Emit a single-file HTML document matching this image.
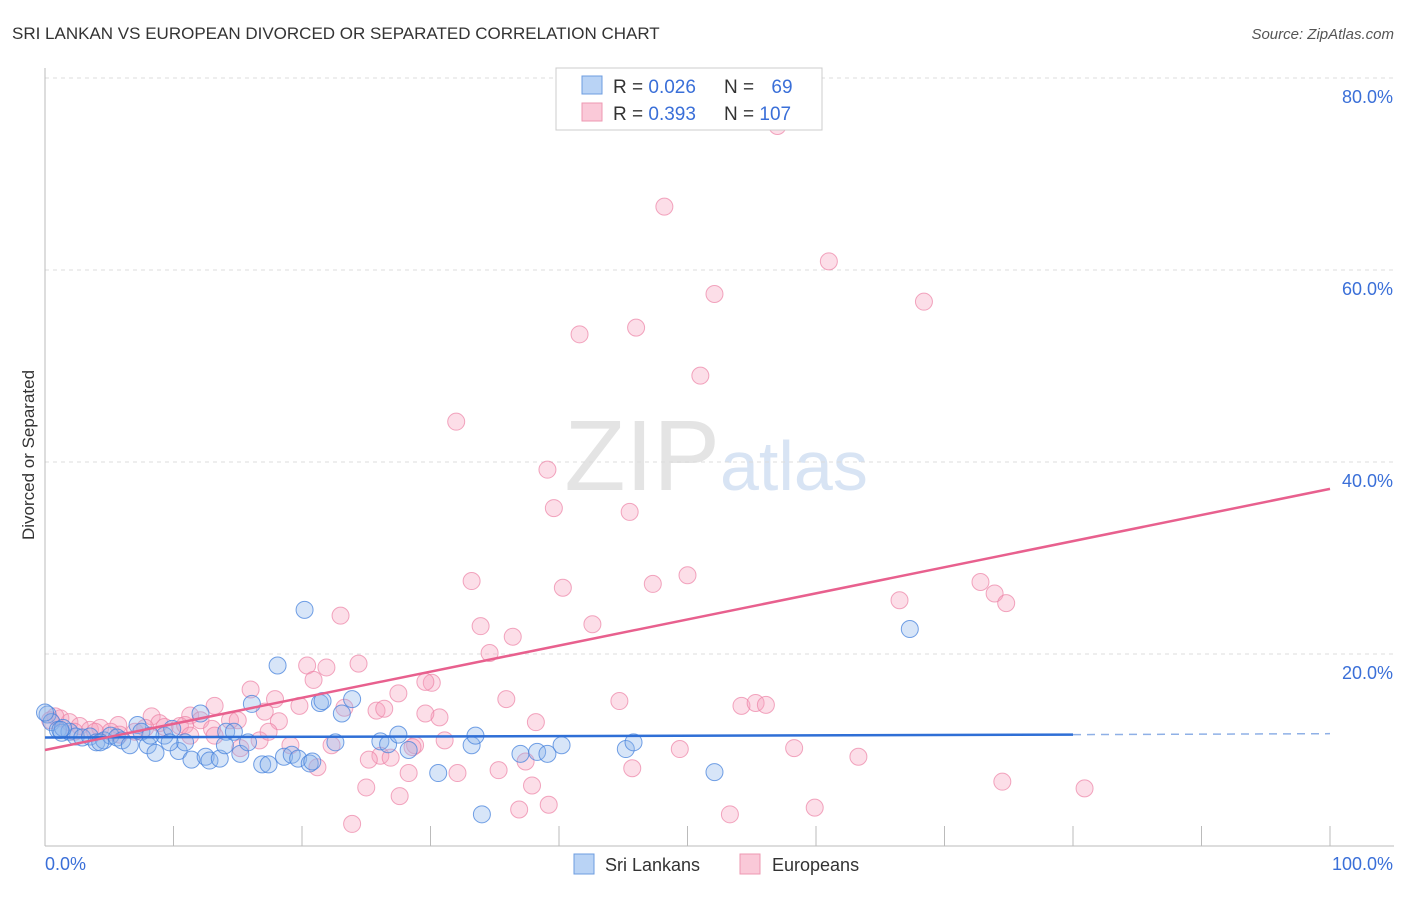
<!DOCTYPE html>
<html><head><meta charset="utf-8"><style>
body{margin:0;background:#fff;font-family:"Liberation Sans",sans-serif}
svg text{font-family:"Liberation Sans",sans-serif}
</style></head><body>
<svg id="chart" width="1406" height="892">
<text x="12" y="39" font-size="17" fill="#333">SRI LANKAN VS EUROPEAN DIVORCED OR SEPARATED CORRELATION CHART</text>
<text x="1394" y="39" font-size="15" fill="#555" font-style="italic" text-anchor="end">Source: ZipAtlas.com</text>
<text x="34" y="455" font-size="17" fill="#333" text-anchor="middle" transform="rotate(-90 34 455)">Divorced or Separated</text>
<text x="720" y="490" font-size="100" fill="#e4e4e4" text-anchor="end" font-family="Liberation Serif">ZIP</text>
<text x="720" y="490" font-size="70" fill="#d8e4f4">atlas</text>
<g id="grid"></g><g id="pts"></g><g id="lines"></g>
<g>
<rect x="556" y="68" width="266" height="62" fill="#fff" stroke="#ccc"/>
<rect x="582" y="76" width="20" height="18" fill="#b9d3f5" stroke="#6d9de0"/>
<rect x="582" y="103" width="20" height="18" fill="#fac9d8" stroke="#ee98b2"/>
<text x="613" y="93" font-size="19" fill="#333">R = <tspan fill="#3a6fd8">0.026</tspan></text>
<text x="724" y="93" font-size="19" fill="#333">N = <tspan fill="#3a6fd8" dx="12">69</tspan></text>
<text x="613" y="120" font-size="19" fill="#333">R = <tspan fill="#3a6fd8">0.393</tspan></text>
<text x="724" y="120" font-size="19" fill="#333">N = <tspan fill="#3a6fd8">107</tspan></text>
</g>
<g>
<rect x="574" y="854" width="20" height="20" fill="#b9d3f5" stroke="#6d9de0"/>
<text x="605" y="871" font-size="18" fill="#333">Sri Lankans</text>
<rect x="740" y="854" width="20" height="20" fill="#fac9d8" stroke="#ee98b2"/>
<text x="772" y="871" font-size="18" fill="#333">Europeans</text>
</g>
</svg>
<script>
const xTicks=[0,10,20,30,40,50,60,70,80,90,100];
const yTicks=[20,40,60,80];
const blueX=[0.2,0.5,1,1.3,1.9,2.4,2.9,3.5,4,4.6,5.1,5.6,6,6.6,7.2,7.5,8,8.6,9.3,9.9,10.4,10.9,11.4,12.1,12.5,12.8,13.6,14.1,14.7,15.2,15.8,16.1,16.9,17.4,18.1,18.6,19.2,19.7,20.2,20.6,20.8,21.4,21.6,22.6,23.1,23.9,26.1,26.7,27.5,28.3,30.6,33.2,33.5,34,37,38.3,39.1,40.2,45.2,45.8,52.1,67.3,0,1.4,4.3,8.2,9.7,14,1.2];
const blueY=[13.7,12.9,12.1,11.8,11.9,11.4,11.3,11.4,10.8,11,11.5,11.3,11,10.5,12.6,11.9,10.5,9.7,11.5,12.2,9.9,10.8,9,13.8,9.3,8.9,9.1,11.9,11.9,9.6,10.8,14.8,8.5,8.5,18.8,9.3,9.5,9.1,24.6,8.6,8.8,14.9,15.1,10.8,13.8,15.3,10.9,10.6,11.6,10,7.6,10.5,11.5,3.3,9.6,9.8,9.6,10.5,10.1,10.8,7.7,22.6,13.9,12.3,10.8,11.5,10.8,10.5,12.1];
const pinkX=[57,48.2,61,52.1,68.4,46,41.6,51,32,39.1,39.6,45.5,33.2,40.3,47.3,50,72.8,66.5,73.9,74.8,23,33.9,36.4,42.6,34.6,24.4,20.4,21.9,20.9,30.1,29.6,16,27.5,17.9,19.8,35.9,44.7,54.2,55.3,56.1,13.2,8.3,11.3,17.1,23.3,25.8,26.4,30.7,29.6,38.2,12.1,14.4,15,18.2,8.9,10.5,13,5.7,7,1.2,1.9,2.7,3.5,4.3,5.1,0.8,0.4,5.8,19.1,22.3,15.2,28.8,31.1,26.1,25.2,26.9,28.6,49.4,58.3,63.3,32.1,28.3,35.3,37.4,45.7,21.2,37.9,25,27.6,36.9,39.2,53.3,59.9,74.5,80.9,23.9,13.2,9.3,10.9,7.8,2.3,3.9,16.7,17.4,11.3];
const pinkY=[75,66.6,60.9,57.5,56.7,54,53.3,49,44.2,39.2,35.2,34.8,27.6,26.9,27.3,28.2,27.5,25.6,26.3,25.3,24,22.9,21.8,23.1,20.1,19,18.8,18.6,17.3,17,17.1,16.3,15.9,15.3,14.6,15.3,15.1,14.6,14.9,14.7,14.6,13.5,13.6,14,14.4,14.1,14.3,13.4,13.8,12.9,13.1,13.1,13.1,13,12.8,12.5,12.2,12.6,11.9,13.3,12.9,12.5,12.1,12.3,11.9,13.5,13.1,11.6,10.5,10.5,10.2,10.5,11,9.4,9,9.2,10.3,10.1,10.2,9.3,7.6,7.6,7.9,8.8,8.1,8.2,6.3,6.1,5.2,3.8,4.3,3.3,4,6.7,6,2.3,11.5,12.4,12.6,12.3,11.9,11.9,11,11.9,11.5];
const blueTrend=[0,11.3,80,11.6,100,11.7];
const pinkTrend=[0,10,100,37.2];
const X=v=>45+v*12.85, Y=v=>846-v*9.6;
const ns="http://www.w3.org/2000/svg";
function mk(t,a,p){const e=document.createElementNS(ns,t);for(const k in a)e.setAttribute(k,a[k]);p.appendChild(e);return e;}
const g=document.getElementById('grid');
yTicks.forEach(t=>{
 const l=mk('line',{x1:45,x2:1394,y1:Y(t),y2:Y(t),stroke:'#ddd','stroke-dasharray':'4,4'},g);
 
 
 const tx=mk('text',{x:1393,y:Y(t)+25,'font-size':18,fill:'#3a6fd8','text-anchor':'end'},g);
 tx.textContent=t.toFixed(1)+'%';
 
 
});
mk('line',{x1:45,x2:1394,y1:Y(80),y2:Y(80),stroke:'#ddd','stroke-dasharray':'4,4'},g);
const ax=mk('line',{x1:45,x2:45,y1:68,y2:846,stroke:'#bbb'},g);


const bx=mk('line',{x1:45,x2:1394,y1:846,y2:846,stroke:'#bbb'},g);


xTicks.forEach(t=>{
 const l=mk('line',{x1:X(t),x2:X(t),y1:826,y2:846,stroke:'#bbb'},g);
 
 
});
[[0,'start'],[100,'end']].forEach(([t,a])=>{
 const tx=mk('text',{x:t===0?45:1393,y:870,'font-size':18,fill:'#3a6fd8','text-anchor':a},g);
 tx.textContent=t.toFixed(1)+'%';
 
 
});
const p=document.getElementById('pts');
pinkX.forEach((x,i)=>{
 const c=mk('circle',{cx:X(x),cy:Y(pinkY[i]),r:8.5,fill:'rgba(246,160,188,0.35)',stroke:'rgba(236,130,165,0.7)','stroke-width':1},p);
 
 
});
blueX.forEach((x,i)=>{
 const c=mk('circle',{cx:X(x),cy:Y(blueY[i]),r:8.5,fill:'rgba(140,180,235,0.35)',stroke:'rgba(70,130,220,0.75)','stroke-width':1},p);
 
 
});
const L=document.getElementById('lines');
const b1=mk('line',{x1:X(blueTrend[0]),y1:Y(blueTrend[1]),x2:X(blueTrend[2]),y2:Y(blueTrend[3]),stroke:'#2f6fd6','stroke-width':2.5},L);


const b2=mk('line',{x1:X(blueTrend[2]),y1:Y(blueTrend[3]),x2:X(blueTrend[4]),y2:Y(blueTrend[5]),stroke:'#8fb0e6','stroke-width':1.5,'stroke-dasharray':'8,6'},L);


const pl=mk('line',{x1:X(pinkTrend[0]),y1:Y(pinkTrend[1]),x2:X(pinkTrend[2]),y2:Y(pinkTrend[3]),stroke:'#e8608e','stroke-width':2.5},L);


</script>
</body></html>
